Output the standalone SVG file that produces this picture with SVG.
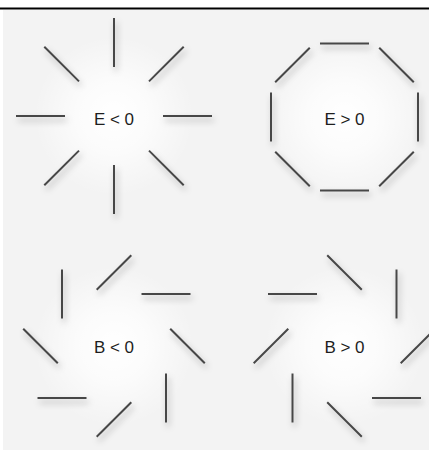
<svg xmlns="http://www.w3.org/2000/svg" width="429" height="451" viewBox="0 0 429 451">
  <defs>
    <radialGradient id="glow">
      <stop offset="0" stop-color="#ffffff" stop-opacity="1"/>
      <stop offset="0.45" stop-color="#ffffff" stop-opacity="0.7"/>
      <stop offset="1" stop-color="#ffffff" stop-opacity="0"/>
    </radialGradient>
    <filter id="shadow" filterUnits="userSpaceOnUse" x="-50" y="-50" width="530" height="550">
      <feDropShadow dx="2" dy="4" stdDeviation="3" flood-color="#000" flood-opacity="0.3"/>
    </filter>
    <style>
      .seg { stroke: #474747; stroke-width: 2; stroke-linecap: butt; fill: none; filter: url(#shadow); }
      .lbl { font-family: "Liberation Sans", Arial, sans-serif; font-size: 17px; fill: #1e1e1e; text-anchor: middle; }
    </style>
  </defs>
  <rect x="0" y="0" width="429" height="451" fill="#ffffff"/>
  <rect x="3" y="10" width="426" height="440" fill="#f3f3f3"/>
  <line x1="0" y1="8.5" x2="429" y2="8.5" stroke="#000" stroke-width="2"/>

  <circle cx="114" cy="116" r="80" fill="url(#glow)"/>
  <circle cx="344.5" cy="117" r="80" fill="url(#glow)"/>
  <circle cx="114" cy="346" r="80" fill="url(#glow)"/>
  <circle cx="344.5" cy="346" r="80" fill="url(#glow)"/>

  <g id="e-neg">
    <line class="seg" x1="114" y1="18" x2="114" y2="67"/>
    <line class="seg" x1="114" y1="165" x2="114" y2="214"/>
    <line class="seg" x1="16" y1="116" x2="65" y2="116"/>
    <line class="seg" x1="163" y1="116" x2="212" y2="116"/>
    <line class="seg" x1="44.3" y1="46.7" x2="79" y2="81.4"/>
    <line class="seg" x1="149" y1="81.4" x2="183.7" y2="46.7"/>
    <line class="seg" x1="44.3" y1="185.3" x2="79" y2="150.6"/>
    <line class="seg" x1="149" y1="150.6" x2="183.7" y2="185.3"/>
    <text class="lbl" x="114" y="124.5">E &lt; 0</text>
  </g>

  <g id="e-pos">
    <line class="seg" x1="320" y1="43.5" x2="369" y2="43.5"/>
    <line class="seg" x1="320" y1="190.5" x2="369" y2="190.5"/>
    <line class="seg" x1="271" y1="92.5" x2="271" y2="141.5"/>
    <line class="seg" x1="418" y1="92.5" x2="418" y2="141.5"/>
    <line class="seg" x1="275.2" y1="82.3" x2="309.8" y2="47.7"/>
    <line class="seg" x1="379.2" y1="47.7" x2="413.8" y2="82.3"/>
    <line class="seg" x1="275.2" y1="151.7" x2="309.8" y2="186.3"/>
    <line class="seg" x1="379.2" y1="186.3" x2="413.8" y2="151.7"/>
    <text class="lbl" x="344.5" y="124.5">E &gt; 0</text>
  </g>

  <g id="b-neg">
    <line class="seg" x1="96.7" y1="289.8" x2="131.3" y2="255.2"/>
    <line class="seg" x1="170.2" y1="328.7" x2="204.8" y2="363.3"/>
    <line class="seg" x1="96.7" y1="436.8" x2="131.3" y2="402.2"/>
    <line class="seg" x1="23.2" y1="328.7" x2="57.8" y2="363.3"/>
    <line class="seg" x1="141.5" y1="294" x2="190.5" y2="294"/>
    <line class="seg" x1="166" y1="373.5" x2="166" y2="422.5"/>
    <line class="seg" x1="37.5" y1="398" x2="86.5" y2="398"/>
    <line class="seg" x1="62" y1="269.5" x2="62" y2="318.5"/>
    <text class="lbl" x="114" y="352.5">B &lt; 0</text>
  </g>

  <g id="b-pos">
    <line class="seg" x1="327.2" y1="255.2" x2="361.8" y2="289.8"/>
    <line class="seg" x1="396.5" y1="269.5" x2="396.5" y2="318.5"/>
    <line class="seg" x1="400.7" y1="363.3" x2="435.3" y2="328.7"/>
    <line class="seg" x1="372" y1="398" x2="421" y2="398"/>
    <line class="seg" x1="327.2" y1="402.2" x2="361.8" y2="436.8"/>
    <line class="seg" x1="292.5" y1="373.5" x2="292.5" y2="422.5"/>
    <line class="seg" x1="253.7" y1="363.3" x2="288.3" y2="328.7"/>
    <line class="seg" x1="268" y1="294" x2="317" y2="294"/>
    <text class="lbl" x="344.5" y="352.5">B &gt; 0</text>
  </g>
</svg>
